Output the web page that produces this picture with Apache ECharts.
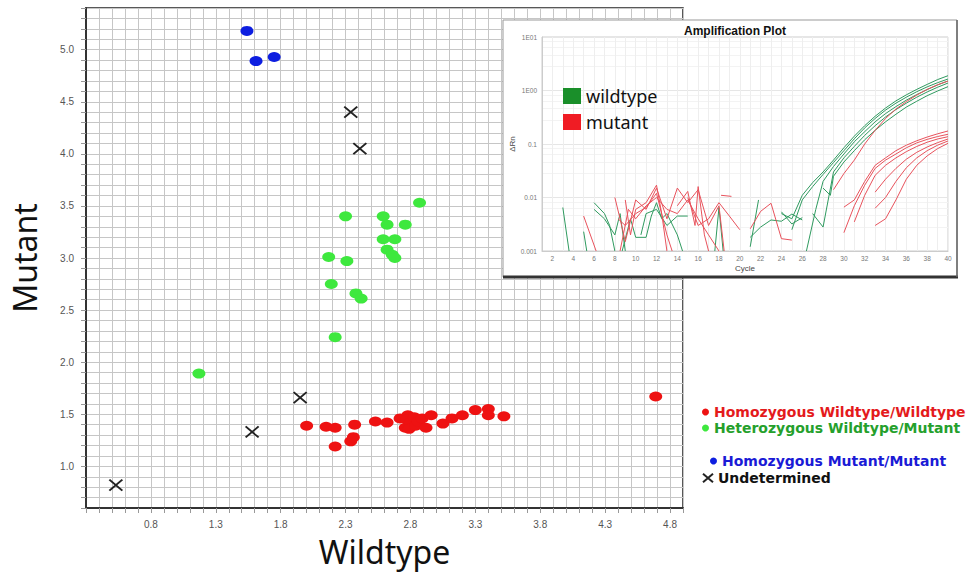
<!DOCTYPE html>
<html>
<head>
<meta charset="utf-8">
<script src="https://cdn.jsdelivr.net/npm/echarts@6/dist/echarts.min.js"></script>
<style>
  html, body { margin: 0; padding: 0; background: #fff; }
  #chart { width: 974px; height: 577px; }
</style>
</head>
<body>
<div id="chart"></div>
<script>
// ---- allelic discrimination plot (wildtype vs mutant signal) ----
var xTickLabels = ['0.8', '1.3', '1.8', '2.3', '2.8', '3.3', '3.8', '4.3', '4.8'];
var yTickLabels = ['1.0', '1.5', '2.0', '2.5', '3.0', '3.5', '4.0', '4.5', '5.0'];

var homWildtype = [[2.00, 1.39], [2.15, 1.38], [2.22, 1.37], [2.22, 1.19], [2.34, 1.24], [2.36, 1.28],
    [2.37, 1.40], [2.53, 1.43], [2.62, 1.42], [2.72, 1.46], [2.76, 1.37], [2.78, 1.49], [2.77, 1.45],
    [2.80, 1.42], [2.79, 1.36], [2.83, 1.47], [2.84, 1.39], [2.86, 1.43], [2.89, 1.46], [2.92, 1.37],
    [2.96, 1.49], [3.05, 1.41], [3.12, 1.46], [3.20, 1.49], [3.30, 1.54], [3.40, 1.55], [3.40, 1.49],
    [3.52, 1.48], [4.69, 1.67]];
var hetWildMut = [[2.87, 3.53], [2.30, 3.40], [2.59, 3.40], [2.62, 3.32], [2.76, 3.32], [2.59, 3.18],
    [2.68, 3.18], [2.62, 3.08], [2.66, 3.03], [2.68, 3.00], [2.17, 3.01], [2.31, 2.97], [2.19, 2.75],
    [2.38, 2.66], [2.42, 2.61], [2.22, 2.24], [1.17, 1.89]];
var homMutant = [[1.54, 5.18], [1.61, 4.89], [1.75, 4.93]];
var undetermined = [[0.53, 0.82], [1.58, 1.33], [1.95, 1.66], [2.34, 4.40], [2.41, 4.05]];

// ---- inset: amplification plot ----
var cycleTickLabels = ['2', '4', '6', '8', '10', '12', '14', '16', '18', '20',
    '22', '24', '26', '28', '30', '32', '34', '36', '38', '40'];
var rnTickValues = [0.001, 0.01, 0.1, 1, 10];
var rnTickLabels = ['0.001', '0.01', '0.1', '1E00', '1E01'];

var wt1 = [[24, 0.005], [25, 0.004], [26, 0.011], [27, 0.019], [28, 0.03], [29, 0.05], [30, 0.085], [31, 0.14], [32, 0.22], [33, 0.33], [34, 0.47], [35, 0.64], [36, 0.83], [37, 1.05], [38, 1.3], [39, 1.6], [40, 1.89]];
var wt2 = [[25, 0.0025], [26, 0.009], [27, 0.016], [28, 0.027], [29, 0.045], [30, 0.075], [31, 0.125], [32, 0.2], [33, 0.3], [34, 0.43], [35, 0.58], [36, 0.75], [37, 0.95], [38, 1.17], [39, 1.4], [40, 1.64]];
var wt3 = [[26.4, 0.001], [27.3, 0.006], [28, 0.02], [29, 0.038], [30, 0.065], [31, 0.11], [32, 0.17], [33, 0.26], [34, 0.37], [35, 0.5], [36, 0.66], [37, 0.84], [38, 1.04], [39, 1.27], [40, 1.51]];
var wt4 = [[27, 0.005], [28, 0.0028], [29, 0.03], [30, 0.055], [31, 0.09], [32, 0.145], [33, 0.22], [34, 0.32], [35, 0.44], [36, 0.58], [37, 0.75], [38, 0.94], [39, 1.15], [40, 1.38]];
var wt5 = [[28, 0.015], [28.7, 0.011], [29, 0.025], [30, 0.046], [31, 0.075], [32, 0.12], [33, 0.18], [34, 0.26], [35, 0.36], [36, 0.49], [37, 0.63], [38, 0.8], [39, 0.98], [40, 1.18]];
var wtSpike = [[21, 0.0012], [21.8, 0.009]];
var wtNoiseA = [[21, 0.0018], [22, 0.0028], [23, 0.0038], [24, 0.0036], [25, 0.0049], [26, 0.0038]];
var wtNoiseB = [[24, 0.0054], [25, 0.0032], [26, 0.0042]];
var wtNoiseC = [[3, 0.0065], [3.6, 0.001]];
var wtNoiseD = [[5, 0.0023], [5.3, 0.001]];
var wtNoiseE = [[6, 0.008], [7, 0.005], [7.5, 0.003], [8, 0.001]];
var wtNoiseF = [[6, 0.006], [7, 0.004], [8, 0.002], [8.5, 0.005], [9, 0.001]];
var wtNoiseG = [[8.7, 0.001], [9.5, 0.004], [10, 0.0018], [11, 0.0018], [11.5, 0.0045], [12, 0.008], [12.5, 0.004], [13, 0.005], [14, 0.002], [14.5, 0.001]];
var wtNoiseH = [[10.5, 0.002], [11, 0.005], [12, 0.006], [13, 0.003], [14, 0.0045], [15, 0.0045]];
var wtNoiseI = [[17.6, 0.001], [18, 0.0065], [18.4, 0.001]];

var mt1 = [[29, 0.014], [30, 0.028], [31, 0.05], [32, 0.1], [33, 0.18], [34, 0.3], [35, 0.45], [36, 0.62], [37, 0.82], [38, 1.05], [39, 1.28], [40, 1.5]];
var mt2 = [[30, 0.0066], [31, 0.009], [32, 0.02], [33, 0.04], [34, 0.055], [35, 0.075], [36, 0.095], [37, 0.115], [38, 0.135], [39, 0.155], [40, 0.175]];
var mt3 = [[30, 0.0022], [31, 0.007], [32, 0.017], [33, 0.035], [34, 0.05], [35, 0.065], [36, 0.085], [37, 0.105], [38, 0.122], [39, 0.138], [40, 0.152]];
var mt4 = [[31, 0.0035], [32, 0.011], [33, 0.026], [34, 0.04], [35, 0.055], [36, 0.072], [37, 0.09], [38, 0.108], [39, 0.124], [40, 0.137]];
var mt5 = [[33, 0.0126], [34, 0.022], [35, 0.035], [36, 0.052], [37, 0.07], [38, 0.088], [39, 0.106], [40, 0.124]];
var mt6 = [[33, 0.0063], [34, 0.01], [35, 0.02], [36, 0.036], [37, 0.055], [38, 0.075], [39, 0.095], [40, 0.114]];
var mt7 = [[33, 0.003], [34, 0.004], [35, 0.009], [36, 0.022], [37, 0.04], [38, 0.06], [39, 0.082], [40, 0.103]];
var mtNoiseA = [[5, 0.0045], [6.2, 0.001]];
var mtNoiseB = [[8, 0.01], [8.5, 0.004], [9, 0.0015], [10, 0.009], [11, 0.006], [12, 0.015], [13, 0.004], [14, 0.015], [15, 0.008], [16, 0.014], [17, 0.003], [18, 0.007], [18.5, 0.001]];
var mtNoiseC = [[8.3, 0.004], [9, 0.003], [10, 0.005], [11, 0.0065], [12, 0.012], [13, 0.002], [13.5, 0.001]];
var mtNoiseD = [[9, 0.009], [9.5, 0.002], [10, 0.006], [11, 0.008], [12, 0.017], [12.5, 0.005], [13, 0.001]];
var mtNoiseE = [[8.5, 0.001], [9.3, 0.006], [10, 0.004], [11, 0.007], [12, 0.01], [13, 0.006], [14, 0.005], [15, 0.009], [16, 0.004], [17, 0.002], [18, 0.001]];
var mtNoiseF = [[14, 0.007], [15, 0.013], [15.7, 0.003], [16, 0.016], [16.6, 0.002], [17, 0.001]];
var mtNoiseG = [[15, 0.01], [16, 0.003], [17, 0.004], [18, 0.008], [19, 0.0045], [20, 0.0025]];
var mtNoiseH = [[18.2, 0.011], [19.2, 0.0105]];
var mtNoiseI = [[21, 0.0026], [22, 0.0055], [23, 0.0078], [24, 0.0017], [25, 0.0016]];

var wildtypeCurves = [wt1, wt2, wt3, wt4, wt5, wtSpike, wtNoiseA, wtNoiseB, wtNoiseC, wtNoiseD, wtNoiseE, wtNoiseF, wtNoiseG, wtNoiseH, wtNoiseI];
var mutantCurves = [mt1, mt2, mt3, mt4, mt5, mt6, mt7, mtNoiseA, mtNoiseB, mtNoiseC, mtNoiseD, mtNoiseE, mtNoiseF, mtNoiseG, mtNoiseH, mtNoiseI];

var chart = echarts.init(document.getElementById('chart'), null, {renderer: 'svg'});

var series = [
    {name: 'Homozygous Wildtype/Wildtype', type: 'scatter', data: homWildtype, symbol: 'circle', symbolSize: [13, 10], itemStyle: {color: '#ee1212', opacity: 1}},
    {name: 'Heterozygous Wildtype/Mutant', type: 'scatter', data: hetWildMut, symbol: 'circle', symbolSize: [13, 10], itemStyle: {color: '#3ee83e', opacity: 1}},
    {name: 'Homozygous Mutant/Mutant', type: 'scatter', data: homMutant, symbol: 'circle', symbolSize: [13, 10], itemStyle: {color: '#0d1ee0', opacity: 1}},
    {name: 'Undetermined', type: 'scatter', data: undetermined, symbol: 'path://M0,0L13,11M13,0L0,11', symbolSize: [13, 11],
        itemStyle: {color: 'transparent', borderColor: '#222', borderWidth: 1.8, opacity: 1}}
];
wildtypeCurves.forEach(function (c) {
    series.push({name: 'wildtype', type: 'line', xAxisIndex: 1, yAxisIndex: 1, data: c, showSymbol: false, z: 12,
        lineStyle: {color: '#2f9a5f', width: 1}, itemStyle: {color: '#2f9a5f'}});
});
mutantCurves.forEach(function (c) {
    series.push({name: 'mutant', type: 'line', xAxisIndex: 1, yAxisIndex: 1, data: c, showSymbol: false, z: 12,
        lineStyle: {color: '#e8525c', width: 1}, itemStyle: {color: '#e8525c'}});
});

var legendText = {fontFamily: 'DejaVu Sans', fontWeight: 'bold', fontSize: 14};

var option = {
    animation: false,
    backgroundColor: '#fff',
    title: {
        text: 'Amplification Plot', left: 730, top: 20, textAlign: 'center', z: 20,
        textStyle: {fontFamily: 'Liberation Sans', fontWeight: 'bold', fontSize: 12, color: '#111'}
    },
    graphic: [
        {type: 'rect', z: 5, shape: {x: 503, y: 20, width: 454, height: 257}, style: {fill: '#fff', stroke: '#999', lineWidth: 1}},
        {type: 'line', z: 6, shape: {x1: 503, y1: 277, x2: 958, y2: 277}, style: {stroke: '#333', lineWidth: 3}},
        {type: 'line', z: 6, shape: {x1: 957, y1: 20, x2: 957, y2: 277}, style: {stroke: '#666', lineWidth: 1.5}}
    ],
    legend: [
        {data: [{name: 'Homozygous Wildtype/Wildtype', textStyle: {color: '#e41a1c'}},
                {name: 'Heterozygous Wildtype/Mutant', textStyle: {color: '#25a02c'}}],
            orient: 'vertical', left: 697, top: 400, itemWidth: 7, itemHeight: 7, itemGap: 2, selectedMode: false,
            textStyle: legendText},
        {data: [{name: 'Homozygous Mutant/Mutant', textStyle: {color: '#1a1ad6'}}],
            orient: 'vertical', left: 705, top: 449, itemWidth: 7, itemHeight: 7, selectedMode: false,
            textStyle: legendText},
        {data: [{name: 'Undetermined', textStyle: {color: '#111'}}],
            orient: 'vertical', left: 697, top: 466, itemWidth: 10, itemHeight: 9, selectedMode: false,
            textStyle: legendText},
        {data: [{name: 'wildtype', icon: 'rect', itemStyle: {color: '#1a8f2a'}},
                {name: 'mutant', icon: 'rect', itemStyle: {color: '#f01c24'}}],
            orient: 'vertical', left: 558, top: 82, itemWidth: 18, itemHeight: 16, itemGap: 8, z: 20, selectedMode: false,
            textStyle: {fontFamily: 'Noto Sans', fontSize: 18, color: '#111'}}
    ],
    grid: [
        {left: 85, top: 8, width: 598, height: 500, show: true, borderColor: '#222', borderWidth: 1.5},
        {left: 542, top: 37, width: 406, height: 214, show: true, backgroundColor: '#fff', borderColor: '#ccc', borderWidth: 1, z: 10}
    ],
    xAxis: [
        {
            type: 'value', gridIndex: 0, min: 0.3, max: 4.9, interval: 0.1,
            name: 'Wildtype', nameLocation: 'middle', nameGap: 27,
            nameTextStyle: {fontFamily: 'Noto Sans', fontSize: 32, color: '#111'},
            axisLine: {onZero: false, lineStyle: {color: '#333', width: 2}},
            axisTick: {show: true, length: 5, lineStyle: {color: '#999'}},
            axisLabel: {
                interval: 0, margin: 11, fontFamily: 'Liberation Sans', fontSize: 10, color: '#555',
                formatter: function (v) {
                    var s = (Math.round(v * 10) / 10).toFixed(1);
                    return xTickLabels.indexOf(s) >= 0 ? s : '';
                }
            },
            splitLine: {show: true, lineStyle: {color: '#c6c6c6', width: 1}}
        },
        {
            type: 'value', gridIndex: 1, min: 1, max: 40, interval: 1, z: 11,
            name: 'Cycle', nameLocation: 'middle', nameGap: 13,
            nameTextStyle: {fontFamily: 'Liberation Sans', fontSize: 8, color: '#444'},
            axisLine: {onZero: false, lineStyle: {color: '#ccc'}},
            axisTick: {show: false},
            axisLabel: {
                interval: 0, margin: 4, fontFamily: 'Liberation Sans', fontSize: 6.5, color: '#777',
                formatter: function (v) {
                    var s = String(Math.round(v));
                    return cycleTickLabels.indexOf(s) >= 0 ? s : '';
                }
            },
            splitLine: {show: true, lineStyle: {color: '#eeeeee', width: 1}}
        }
    ],
    yAxis: [
        {
            type: 'value', gridIndex: 0, min: 0.6, max: 5.4, interval: 0.1,
            name: 'Mutant', nameLocation: 'middle', nameGap: 46,
            nameTextStyle: {fontFamily: 'Noto Sans', fontSize: 32, color: '#111'},
            axisLine: {onZero: false, lineStyle: {color: '#333', width: 2}},
            axisTick: {show: true, length: 5, lineStyle: {color: '#999'}},
            axisLabel: {
                interval: 0, margin: 12, fontFamily: 'Liberation Sans', fontSize: 10, color: '#555',
                formatter: function (v) {
                    var s = (Math.round(v * 10) / 10).toFixed(1);
                    return yTickLabels.indexOf(s) >= 0 ? s : '';
                }
            },
            splitLine: {show: true, lineStyle: {color: '#c6c6c6', width: 1}}
        },
        {
            type: 'log', gridIndex: 1, min: 0.001, max: 10, logBase: 10, z: 11,
            name: 'ΔRn', nameLocation: 'middle', nameGap: 24,
            nameTextStyle: {fontFamily: 'Liberation Sans', fontSize: 8, color: '#444'},
            axisLine: {onZero: false, lineStyle: {color: '#ccc'}},
            axisTick: {show: false},
            axisLabel: {
                margin: 5, fontFamily: 'Liberation Sans', fontSize: 6.5, color: '#777',
                formatter: function (v) {
                    for (var i = 0; i < rnTickValues.length; i++) {
                        if (Math.abs(Math.log10(v) - Math.log10(rnTickValues[i])) < 1e-6) return rnTickLabels[i];
                    }
                    return '';
                }
            },
            splitLine: {show: true, lineStyle: {color: '#e6e6e6'}},
            minorTick: {show: false, splitNumber: 5},
            minorSplitLine: {show: true, lineStyle: {color: '#f3f3f3'}}
        }
    ],
    series: series
};

chart.setOption(option);
</script>
</body>
</html>
